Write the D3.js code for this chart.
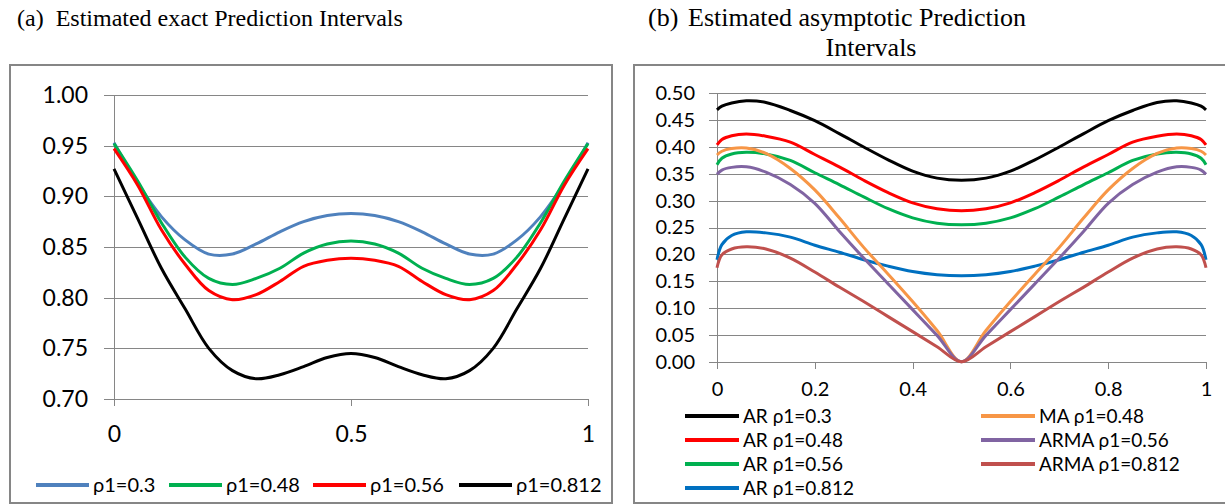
<!DOCTYPE html>
<meta charset="utf-8">
<script src="https://d3js.org/d3.v7.min.js"></script>
<style>
body {margin: 0; background: #fff;}
.title {font-family: "Liberation Serif", "Times New Roman", serif; fill: #000; white-space: pre;}
.frame {fill: none; stroke: #868686; stroke-width: 2;}
.grid {stroke: #868686; stroke-width: 1; shape-rendering: crispEdges;}
.axis path, .axis line {stroke: #868686; stroke-width: 1; shape-rendering: crispEdges;}
.axis text {font-family: Lato, "Open Sans", sans-serif; fill: #000;}
.legend text {font-family: Lato, "Open Sans", sans-serif; fill: #000;}
.curve {fill: none; stroke-width: 3; stroke-linejoin: round;}
</style>

<div id="vis"></div>

<script>

// ---- data (a): exact prediction intervals ----
const xExact = [0, 0.05, 0.1, 0.15, 0.2, 0.25, 0.3, 0.35, 0.4, 0.45, 0.5,
                0.55, 0.6, 0.65, 0.7, 0.75, 0.8, 0.85, 0.9, 0.95, 1];
const exact03  = [0.953, 0.913, 0.880, 0.857, 0.843, 0.843, 0.853, 0.865, 0.875, 0.881, 0.883,
                  0.881, 0.875, 0.865, 0.853, 0.843, 0.843, 0.857, 0.880, 0.913, 0.953];
const exact048 = [0.952, 0.915, 0.874, 0.840, 0.819, 0.813, 0.819, 0.829, 0.844, 0.853, 0.856,
                  0.853, 0.844, 0.829, 0.819, 0.813, 0.819, 0.840, 0.874, 0.915, 0.952];
const exact056 = [0.947, 0.911, 0.867, 0.833, 0.807, 0.798, 0.803, 0.816, 0.831, 0.837, 0.839,
                  0.837, 0.831, 0.816, 0.803, 0.798, 0.807, 0.833, 0.867, 0.911, 0.947];
const exact0812 = [0.927, 0.878, 0.829, 0.789, 0.750, 0.728, 0.720, 0.724, 0.732, 0.741, 0.745,
                   0.741, 0.732, 0.724, 0.720, 0.728, 0.750, 0.789, 0.829, 0.878, 0.927];
const exactNames = ["ρ1=0.3", "ρ1=0.48", "ρ1=0.56", "ρ1=0.812"];
const exactTicksY = [0.70, 0.75, 0.80, 0.85, 0.90, 0.95, 1.00];
const exactTicksX = [0, 0.5, 1];

// ---- data (b): asymptotic prediction intervals ----
const xAsym = [0, 0.01, 0.03, 0.06, 0.1, 0.15, 0.2, 0.25, 0.3, 0.35, 0.4, 0.45, 0.5,
               0.55, 0.6, 0.65, 0.7, 0.75, 0.8, 0.85, 0.9, 0.94, 0.97, 0.99, 1];
const ar03   = [0.469, 0.476, 0.482, 0.486, 0.483, 0.468, 0.449, 0.425, 0.400, 0.376, 0.355, 0.342, 0.338,
                0.342, 0.355, 0.376, 0.400, 0.425, 0.449, 0.468, 0.483, 0.486, 0.482, 0.476, 0.469];
const ar048  = [0.404, 0.414, 0.421, 0.424, 0.420, 0.409, 0.386, 0.363, 0.338, 0.315, 0.296, 0.285, 0.281,
                0.285, 0.296, 0.315, 0.338, 0.363, 0.386, 0.409, 0.420, 0.424, 0.421, 0.414, 0.404];
const ar056  = [0.367, 0.379, 0.387, 0.390, 0.387, 0.375, 0.352, 0.330, 0.307, 0.285, 0.268, 0.258, 0.255,
                0.258, 0.268, 0.285, 0.307, 0.330, 0.352, 0.375, 0.387, 0.390, 0.387, 0.379, 0.367];
const ar0812 = [0.190, 0.218, 0.235, 0.242, 0.240, 0.232, 0.217, 0.204, 0.190, 0.178, 0.168, 0.162, 0.160,
                0.162, 0.168, 0.178, 0.190, 0.204, 0.217, 0.232, 0.240, 0.242, 0.235, 0.218, 0.190];
const ma048  = [0.385, 0.392, 0.397, 0.398, 0.388, 0.360, 0.320, 0.268, 0.213, 0.163, 0.112, 0.058, 0.000,
                0.058, 0.112, 0.163, 0.213, 0.268, 0.320, 0.360, 0.388, 0.398, 0.397, 0.392, 0.385];
const arma056  = [0.349, 0.357, 0.362, 0.363, 0.353, 0.330, 0.295, 0.243, 0.193, 0.145, 0.097, 0.049, 0.000,
                  0.049, 0.097, 0.145, 0.193, 0.243, 0.295, 0.330, 0.353, 0.363, 0.362, 0.357, 0.349];
const arma0812 = [0.175, 0.199, 0.210, 0.214, 0.210, 0.193, 0.167, 0.139, 0.112, 0.084, 0.056, 0.028, 0.000,
                  0.028, 0.056, 0.084, 0.112, 0.139, 0.167, 0.193, 0.210, 0.214, 0.210, 0.199, 0.175];
const asymNames = ["AR ρ1=0.3", "AR ρ1=0.48", "AR ρ1=0.56", "AR ρ1=0.812",
                   "MA ρ1=0.48", "ARMA ρ1=0.56", "ARMA ρ1=0.812"];
const asymTicksY = [0, 0.05, 0.10, 0.15, 0.20, 0.25, 0.30, 0.35, 0.40, 0.45, 0.50];
const asymTicksX = [0, 0.2, 0.4, 0.6, 0.8, 1];

const exactColors = ["#4F81BD", "#00B050", "#FF0000", "#000000"];
const asymColors = ["#000000", "#FF0000", "#00B050", "#0070C0", "#F79646", "#8064A2", "#C0504D"];

const svg = d3.select("#vis")
  .append("svg")
  .attr("width", 1225)
  .attr("height", 504);

// titles
svg.append("text").attr("class", "title").attr("x", 17).attr("y", 26)
  .attr("xml:space", "preserve").style("font-size", "24px")
  .text("(a)  Estimated exact Prediction Intervals");

let tb = svg.append("text").attr("class", "title").attr("y", 26).style("font-size", "26px");
tb.append("tspan").attr("x", 648).text("(b)");
tb.append("tspan").attr("x", 688).text("Estimated asymptotic Prediction");
svg.append("text").attr("class", "title").attr("x", 871).attr("y", 56)
  .attr("text-anchor", "middle").style("font-size", "26px")
  .text("Intervals");

// frames
svg.append("rect").attr("class", "frame").attr("x", 10).attr("y", 65).attr("width", 602).attr("height", 438);
svg.append("rect").attr("class", "frame").attr("x", 634).attr("y", 65).attr("width", 600).attr("height", 438);

function drawPanel(p) {
  const x = d3.scaleLinear().domain([0, 1]).range([p.left, p.right]);
  const y = d3.scaleLinear().domain(p.yDomain).range([p.bottom, p.top]);
  const g = svg.append("g");

  // horizontal gridlines, reaching a bit left of the axis
  g.selectAll(".grid")
    .data(p.ticksY)
    .enter().append("line")
      .attr("class", "grid")
      .attr("x1", p.left - p.gridOut)
      .attr("x2", p.right)
      .attr("y1", d => Math.round(y(d)) + 0.5)
      .attr("y2", d => Math.round(y(d)) + 0.5);

  g.append("g")
      .attr("class", "axis")
      .attr("transform", "translate(" + p.left + ",0)")
      .call(d3.axisLeft(y).tickValues(p.ticksY).tickSize(0).tickSizeOuter(0)
              .tickPadding(p.yPad).tickFormat(d3.format(".2f")))
      .call(a => a.selectAll("text").style("font-size", p.font + "px"));

  g.append("g")
      .attr("class", "axis")
      .attr("transform", "translate(0," + p.bottom + ")")
      .call(d3.axisBottom(x).tickValues(p.ticksX).tickSize(7).tickSizeOuter(0)
              .tickPadding(p.xPad).tickFormat(d3.format("")))
      .call(a => a.select(".domain").remove())
      .call(a => a.selectAll("text").style("font-size", p.font + "px"));

  const line = d3.line()
    .x((d, i) => x(p.xs[i]))
    .y(d => y(d))
    .curve(d3.curveCatmullRom.alpha(0.5));

  g.selectAll(".curve")
    .data(p.series)
    .enter().append("path")
      .attr("class", "curve")
      .attr("stroke", (d, i) => p.colors[i])
      .attr("d", d => line(d));

  // legend
  const lg = g.append("g").attr("class", "legend");
  const items = lg.selectAll("g")
    .data(p.names)
    .enter().append("g")
      .attr("transform", (d, i) => "translate(" + p.legendPos[i][0] + "," + p.legendPos[i][1] + ")");
  items.append("line")
    .attr("x1", 0).attr("x2", p.legendLine)
    .attr("stroke", (d, i) => p.colors[i])
    .attr("stroke-width", 4);
  items.append("text")
    .attr("x", p.legendLine + 4)
    .attr("dy", "0.35em")
    .style("font-size", p.legendFont + "px")
    .text(d => d);
}

drawPanel({
  left: 114, right: 588, top: 95, bottom: 399,
  yDomain: [0.70, 1.00], xs: xExact,
  series: [exact03, exact048, exact056, exact0812],
  colors: exactColors, names: exactNames,
  ticksY: exactTicksY, ticksX: exactTicksX,
  gridOut: 10, yPad: 26, xPad: 20, font: 23,
  legendPos: [[36, 485], [169, 485], [313, 485], [459, 485]],
  legendLine: 53, legendFont: 20
});

drawPanel({
  left: 717, right: 1206, top: 93.3, bottom: 361.7,
  yDomain: [0, 0.50], xs: xAsym,
  series: [ar03, ar048, ar056, ar0812, ma048, arma056, arma0812],
  colors: asymColors, names: asymNames,
  ticksY: asymTicksY, ticksX: asymTicksX,
  gridOut: 8, yPad: 22, xPad: 13, font: 20,
  legendPos: [[685, 416], [685, 440], [685, 464], [685, 488],
              [981, 416], [981, 440], [981, 464]],
  legendLine: 54, legendFont: 19
});

</script>
